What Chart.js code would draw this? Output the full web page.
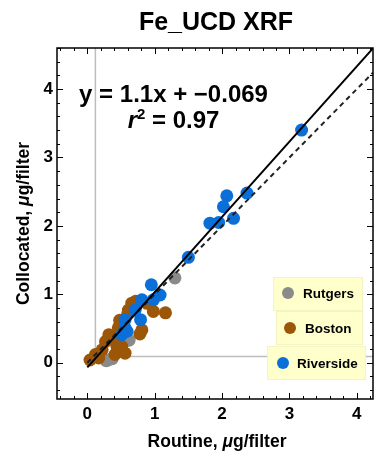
<!DOCTYPE html>
<html lang="en">
<head>
  <meta charset="UTF-8" />
  <title>Fe_UCD XRF</title>
  <script src="https://cdn.jsdelivr.net/npm/chart.js"></script>
  <style>
    body { margin: 0; background: #fff; }
    #chart { display: block; }
  </style>
</head>
<body>
  <canvas id="chart" width="374" height="455"></canvas>
  <script>
    // data (routine x, collocated y)
    const rutgersX = [1.30, 0.37, 0.28, 0.62, 0.50, 0.31];
    const rutgersY = [1.24, 0.06, 0.03, 0.33, 0.36, 0.04];

    const bostonX = [1.16, 0.98, 0.88, 0.66, 0.61, 0.72, 0.81, 0.78, 0.56, 0.32, 0.27, 0.22, 0.12, 0.04, 0.17, 0.41, 0.44, 0.37, 0.51, 0.46, 0.48, 0.60];
    const bostonY = [0.73, 0.75, 0.87, 0.87, 0.77, 0.90, 0.48, 0.42, 0.14, 0.41, 0.31, 0.19, 0.12, 0.04, 0.07, 0.12, 0.24, 0.34, 0.24, 0.51, 0.62, 0.72];

    const riversideX = [3.18, 2.07, 2.37, 2.02, 1.82, 1.95, 2.17, 1.50, 0.95, 0.81, 1.08, 0.98, 0.56, 0.79, 0.51, 0.56, 0.71, 0.59];
    const riversideY = [3.40, 2.44, 2.48, 2.28, 2.04, 2.05, 2.11, 1.54, 1.14, 0.92, 0.99, 0.92, 0.63, 0.63, 0.41, 0.51, 0.77, 0.46];

    const fitSlope = 1.1;
    const fitIntercept = -0.069;
    const fitR2 = 0.97;

    const mdlX = 0.12;
    const mdlY = 0.09;

    const xTicks = [0, 1, 2, 3, 4];
    const yTicks = [0, 1, 2, 3, 4];

    const colGray = '#8a8a8a';
    const colBrown = '#9c5608';
    const colBlue = '#0a6fd8';
    const FONT = '"Liberation Sans", Arial, sans-serif';

    function pts(xs, ys) {
      return xs.map((x, i) => ({ x: x, y: ys[i] }));
    }

    const xMin = -0.45, xMax = 4.24, yMin = -0.53, yMax = 4.6;

    function drawParts(ctx, parts, x, y) {
      let w = 0;
      parts.forEach(p => { ctx.font = p.f; w += ctx.measureText(p.t).width; });
      let cx = x - w / 2;
      parts.forEach(p => {
        ctx.font = p.f;
        ctx.fillText(p.t, cx, y + (p.dy || 0));
        cx += ctx.measureText(p.t).width;
      });
    }

    const extras = {
      id: 'extras',
      afterDraw(chart) {
        const ctx = chart.ctx;
        const a = chart.chartArea;
        const xs = chart.scales.x, ys = chart.scales.y;
        ctx.save();

        // frame + inward ticks on all sides
        ctx.strokeStyle = '#000';
        ctx.lineWidth = 1.5;
        ctx.strokeRect(a.left, a.top, a.right - a.left, a.bottom - a.top);
        ctx.lineWidth = 1;
        ctx.beginPath();
        for (let k = -2; k <= 21; k++) {
          const px = Math.round(xs.getPixelForValue(k / 5)) + 0.5;
          const len = k % 5 === 0 ? 6 : 3;
          ctx.moveTo(px, a.bottom); ctx.lineTo(px, a.bottom - len);
          ctx.moveTo(px, a.top); ctx.lineTo(px, a.top + len);
        }
        for (let k = -2; k <= 23; k++) {
          const py = Math.round(ys.getPixelForValue(k / 5)) + 0.5;
          const len = k % 5 === 0 ? 6 : 3;
          ctx.moveTo(a.left, py); ctx.lineTo(a.left + len, py);
          ctx.moveTo(a.right, py); ctx.lineTo(a.right - len, py);
        }
        ctx.stroke();

        ctx.fillStyle = '#000';
        ctx.textBaseline = 'alphabetic';
        ctx.textAlign = 'left';

        // title
        const midX = (a.left + a.right) / 2;
        drawParts(ctx, [{ t: 'Fe_UCD XRF', f: 'bold 25px ' + FONT }], midX + 1, 30);

        // axis titles
        drawParts(ctx, [
          { t: 'Routine, ', f: 'bold 17.5px ' + FONT },
          { t: 'μ', f: 'italic bold 17.5px ' + FONT },
          { t: 'g/filter', f: 'bold 17.5px ' + FONT }
        ], midX + 2, 447);

        ctx.save();
        ctx.translate(29, (a.top + a.bottom) / 2);
        ctx.rotate(-Math.PI / 2);
        drawParts(ctx, [
          { t: 'Collocated, ', f: 'bold 17.5px ' + FONT },
          { t: 'μ', f: 'italic bold 17.5px ' + FONT },
          { t: 'g/filter', f: 'bold 17.5px ' + FONT }
        ], 0, 0);
        ctx.restore();

        // regression text
        const sign = fitIntercept < 0 ? '−' : '';
        drawParts(ctx, [{ t: 'y = ' + fitSlope + 'x + ' + sign + Math.abs(fitIntercept).toFixed(3), f: 'bold 24px ' + FONT }], 173.5, 101.5);
        drawParts(ctx, [
          { t: 'r', f: 'italic bold 24px ' + FONT },
          { t: '2', f: 'bold 15px ' + FONT, dy: -9 },
          { t: ' = ' + fitR2.toFixed(2), f: 'bold 24px ' + FONT }
        ], 173.5, 128);

        // legend boxes
        const items = [
          { name: 'Rutgers', c: colGray, box: [273, 277, 90, 34], dot: [288, 293], tx: 303 },
          { name: 'Boston', c: colBrown, box: [276, 311, 87, 34], dot: [290, 328], tx: 305 },
          { name: 'Riverside', c: colBlue, box: [267, 346, 99, 34], dot: [283, 363], tx: 297 }
        ];
        items.forEach(it => {
          ctx.fillStyle = '#ffffcc';
          ctx.fillRect(it.box[0], it.box[1], it.box[2], it.box[3]);
          ctx.strokeStyle = '#f3f3c4';
          ctx.lineWidth = 1;
          ctx.strokeRect(it.box[0] + 0.5, it.box[1] + 0.5, it.box[2] - 1, it.box[3] - 1);
          ctx.fillStyle = it.c;
          ctx.beginPath();
          ctx.arc(it.dot[0], it.dot[1], 6, 0, Math.PI * 2);
          ctx.fill();
          ctx.fillStyle = '#000';
          ctx.font = 'bold 13.5px ' + FONT;
          ctx.textBaseline = 'middle';
          ctx.fillText(it.name, it.tx, it.dot[1] + 1);
          ctx.textBaseline = 'alphabetic';
        });

        ctx.restore();
      }
    };

    const tickFont = { family: FONT, size: 17, weight: 'bold' };

    new Chart(document.getElementById('chart'), {
      type: 'scatter',
      data: {
        datasets: [
          {
            type: 'line', label: 'mdl',
            data: [{ x: mdlX, y: yMax }, { x: mdlX, y: mdlY }, { x: xMax, y: mdlY }],
            borderColor: '#bdbdbd', borderWidth: 1.5, pointRadius: 0, order: 10
          },
          {
            label: 'Rutgers', data: pts(rutgersX, rutgersY),
            backgroundColor: colGray, pointRadius: 6.5, borderWidth: 0, order: 5
          },
          {
            label: 'Boston', data: pts(bostonX, bostonY),
            backgroundColor: colBrown, pointRadius: 6.5, borderWidth: 0, order: 4
          },
          {
            label: 'Riverside', data: pts(riversideX, riversideY),
            backgroundColor: colBlue, pointRadius: 6.5, borderWidth: 0, order: 3
          },
          {
            type: 'line', label: '1:1',
            data: [{ x: 0, y: 0 }, { x: xMax, y: xMax }],
            borderColor: '#222', borderWidth: 2, borderDash: [5, 4], pointRadius: 0, order: 2
          },
          {
            type: 'line', label: 'fit',
            data: [{ x: 0, y: fitIntercept }, { x: xMax, y: fitSlope * xMax + fitIntercept }],
            borderColor: '#000', borderWidth: 2, pointRadius: 0, order: 1
          }
        ]
      },
      options: {
        responsive: false,
        animation: false,
        layout: { autoPadding: false, padding: { top: 48, right: 1, left: 0, bottom: 0 } },
        plugins: {
          legend: { display: false },
          tooltip: { enabled: false },
          title: { display: false }
        },
        scales: {
          x: {
            type: 'linear', min: xMin, max: xMax,
            grid: { display: false, drawTicks: false },
            border: { display: false },
            ticks: { padding: 5, color: '#000', font: tickFont },
            afterBuildTicks: s => { s.ticks = xTicks.map(v => ({ value: v })); },
            afterFit: s => { s.height = 56; }
          },
          y: {
            type: 'linear', min: yMin, max: yMax,
            grid: { display: false, drawTicks: false },
            border: { display: false },
            ticks: { padding: 4, color: '#000', font: tickFont },
            afterBuildTicks: s => { s.ticks = yTicks.map(v => ({ value: v })); },
            afterFit: s => { s.width = 57; }
          }
        }
      },
      plugins: [extras]
    });
  </script>
</body>
</html>
